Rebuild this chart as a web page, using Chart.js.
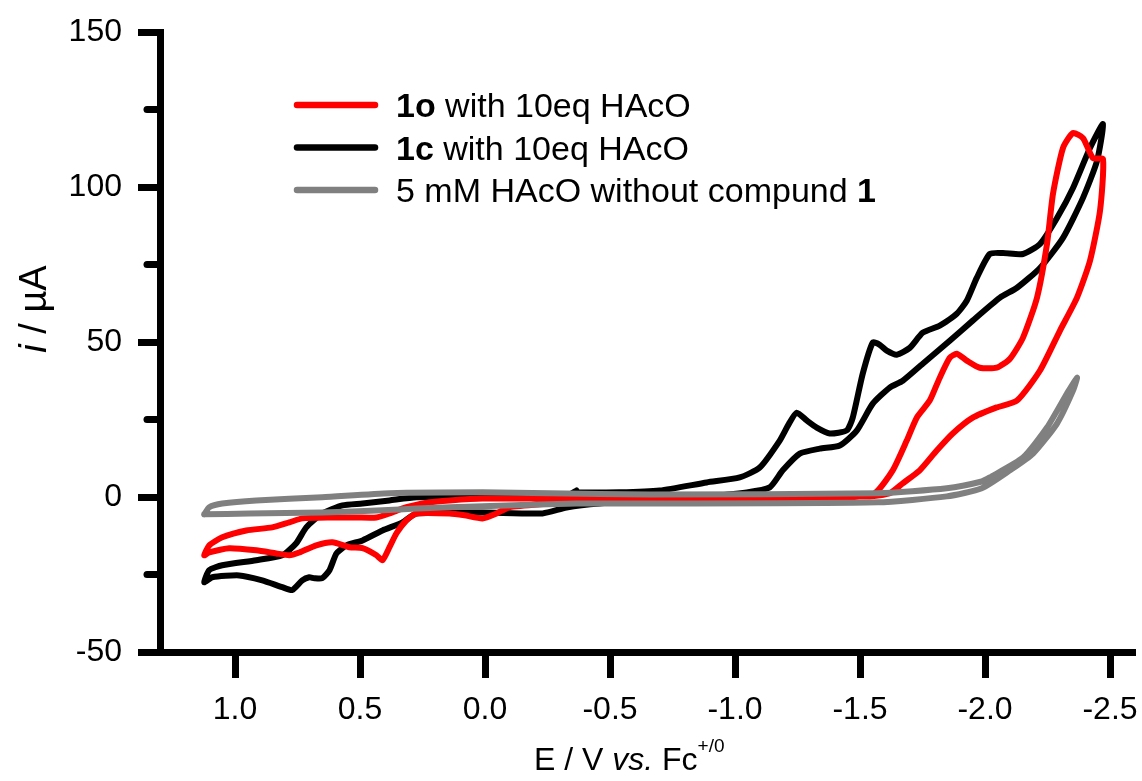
<!DOCTYPE html>
<html lang="en">
<head>
<meta charset="UTF-8">
<title>CV with HAcO</title>
<script src="https://cdn.jsdelivr.net/npm/chart.js"></script>
<style>
  body { margin: 0; background: #fff; }
  .wrap { width: 1142px; height: 781px; position: relative; }
</style>
</head>
<body>
<div class="wrap"><canvas id="cv"></canvas></div>
<script>
// tick values
const xTicks = [1.0, 0.5, 0.0, -0.5, -1.0, -1.5, -2.0, -2.5];
const yTicks = [-50, 0, 50, 100, 150];
const yMinorTicks = [-25, 25, 75, 125];

// 1o with 10eq HAcO (red)
const redE = [-0.366,-0.659,-1.059,-1.459,-1.559,-1.631,-1.687,-1.727,-1.779,-1.819,-1.859,-1.887,-1.927,-1.979,-2.047,-2.100,-2.152,-2.208,-2.248,-2.272,-2.312,-2.352,-2.392,-2.432,-2.472,
  -2.460,-2.420,-2.368,-2.300,-2.220,-2.128,-2.047,-1.951,-1.871,-1.807,-1.739,-1.671,-1.619,-1.539,-1.059,-0.498,-0.390,-0.258,-0.098,-0.046,0.010,0.082,0.142,0.274,0.314,0.354,0.382,0.410,0.434,0.490,0.542,0.610,0.675,0.743,0.783,0.835,0.915,1.023,1.103,1.123,
  1.103,1.051,0.955,0.851,0.783,0.731,0.622,0.514,0.434,0.382,0.314,0.222,0.142,0.010,-0.366];
const redI = [-0.5,-0.8,-0.8,-0.1,1.2,8.6,18.2,25.6,31.1,38.5,44.9,46.2,44.0,41.7,41.7,44.6,51.4,64.3,81.6,97.8,112.6,117.4,115.8,109.3,109.0,
  92.3,76.2,64.3,53.7,40.8,31.1,28.9,25.6,20.5,15.0,8.6,4.4,1.2,0.2,0.2,0,-1.1,-2.1,-3.3,-5.3,-6.9,-5.9,-5.3,-5.3,-7.5,-11.7,-16.2,-20.4,-18.8,-16.5,-16.2,-14.6,-15.6,-17.9,-18.8,-18.2,-17.2,-16.5,-17.9,-18.8,
  -15.6,-13.0,-10.8,-9.8,-8.2,-6.9,-6.6,-6.6,-6.6,-5.3,-3.3,-1.7,-1.1,-0.5,-0.5];

// 1c with 10eq HAcO (black)
const blackE = [-0.366,-0.538,-0.699,-0.887,-1.019,-1.099,-1.179,-1.215,-1.247,-1.287,-1.327,-1.379,-1.447,-1.471,-1.511,-1.551,-1.579,-1.607,-1.647,-1.699,-1.751,-1.819,-1.887,-1.927,-1.967,-2.019,-2.072,-2.152,-2.220,-2.288,-2.352,-2.420,-2.472,
  -2.448,-2.392,-2.312,-2.220,-2.128,-2.060,-1.951,-1.859,-1.751,-1.671,-1.619,-1.551,-1.487,-1.419,-1.339,-1.259,-1.191,-1.139,-1.047,-0.859,-0.659,-0.458,-0.326,-0.230,0.010,0.274,0.330,0.410,0.490,0.554,0.594,0.622,0.651,0.683,0.703,0.731,0.771,0.811,0.891,0.983,1.091,1.123,
  1.103,1.051,0.915,0.811,0.755,0.715,0.651,0.570,0.490,0.382,0.274,0.010,-0.178,-0.338,-0.366];
const blackI = [1.5,1.5,2.1,4.7,6.3,9.5,18.2,23.5,27.2,24.7,22.4,20.5,21.5,25.6,39.8,49.8,49.1,47.2,45.9,48.1,53.0,55.3,59.1,63.3,70.7,78.4,78.7,78.4,81.6,90.0,99.7,112.6,120.3,
  108.4,96.5,83.6,73.9,67.5,64.3,56.9,50.4,43.0,37.5,35.3,30.1,21.4,16.6,15.6,14.0,8.6,3.1,1.5,0,-1.1,-2.1,-3.4,-5.3,-5.0,-5.3,-8.2,-10.8,-14.0,-15.6,-18.2,-23.6,-26.2,-26.2,-25.9,-26.9,-30.0,-29.1,-26.9,-25.3,-25.9,-27.5,
  -23.6,-22.0,-20.4,-18.8,-14.9,-9.8,-5.3,-2.7,-2.1,-1.1,-0.1,-0.1,0.2,0.8,2.1];

// 5 mM HAcO without compound 1 (grey)
const grayE = [1.123,1.103,1.051,0.915,0.651,0.382,0.010,-0.258,-0.659,-1.571,-1.847,-1.987,-2.019,-2.152,-2.248,-2.328,-2.368,
  -2.352,-2.288,-2.192,-2.100,-1.987,-1.847,-1.571,-0.659,-0.366,0.010,0.274,0.410,0.651,0.943,1.123];
const grayI = [-5.6,-3.3,-2.1,-1.1,-0.1,1.2,1.5,1.2,0.8,1.2,2.8,5.0,6.3,12.7,22.4,33.4,38.5,
  34.3,23.7,14.0,8.6,2.8,0.2,-1.7,-2.1,-2.1,-3.0,-3.7,-4.3,-5.0,-5.3,-5.6];

const FONT = '"Liberation Sans", Arial, sans-serif';

function pts(es, is) {
  return es.map((e, k) => ({ x: e, y: is[k] }));
}

function series(label, es, is, color) {
  return {
    label: label, data: pts(es, is), showLine: true,
    borderColor: color, backgroundColor: color, borderWidth: 6,
    pointRadius: 0, tension: 0.2,
    borderCapStyle: 'round', borderJoinStyle: 'round'
  };
}

// legend rows: [colour, text runs]
const legendRows = [
  ['#ff0000', [{ t: '1o', b: true }, { t: ' with 10eq HAcO' }]],
  ['#000000', [{ t: '1c', b: true }, { t: ' with 10eq HAcO' }]],
  ['#808080', [{ t: '5 mM HAcO without compund ' }, { t: '1', b: true }]]
];

function runs(ctx, list, x, y, size) {
  list.forEach(r => {
    ctx.font = (r.i ? 'italic ' : '') + (r.b ? 'bold ' : '') + (r.size || size) + 'px ' + FONT;
    ctx.fillText(r.t, x, y + (r.dy || 0));
    x += ctx.measureText(r.t).width;
  });
  return x;
}

function runsWidth(ctx, list, size) {
  let w = 0;
  list.forEach(r => {
    ctx.font = (r.i ? 'italic ' : '') + (r.b ? 'bold ' : '') + (r.size || size) + 'px ' + FONT;
    w += ctx.measureText(r.t).width;
  });
  return w;
}

const overlay = {
  id: 'overlay',
  afterDraw(chart) {
    const ctx = chart.ctx, area = chart.chartArea, ys = chart.scales.y;
    ctx.save();
    ctx.strokeStyle = '#000';
    ctx.lineWidth = 7;
    ctx.lineCap = 'round';
    yMinorTicks.forEach(v => {
      const py = ys.getPixelForValue(v);
      ctx.beginPath();
      ctx.moveTo(area.left - 13, py);
      ctx.lineTo(area.left, py);
      ctx.stroke();
    });

    // legend
    ctx.textBaseline = 'alphabetic';
    ctx.fillStyle = '#000';
    legendRows.forEach((row, k) => {
      const ry = 105 + k * 42.5;
      ctx.strokeStyle = row[0];
      ctx.lineWidth = 6.5;
      ctx.beginPath();
      ctx.moveTo(297, ry);
      ctx.lineTo(375, ry);
      ctx.stroke();
      runs(ctx, row[1], 396, ry + 12, 34);
    });

    // x title
    const xt = [{ t: 'E / V ' }, { t: 'vs.', i: true }, { t: ' Fc' }, { t: '+/0', size: 19, dy: -18 }];
    runs(ctx, xt, 534, 770, 32);

    // y title
    const yt = [{ t: 'i', i: true }, { t: ' / \u00b5A' }];
    ctx.translate(46, 309);
    ctx.rotate(-Math.PI / 2);
    const w = runsWidth(ctx, yt, 38);
    runs(ctx, yt, -w / 2, 0, 38);
    ctx.restore();
  }
};

function fmt(v) {
  const s = Math.abs(v) < 1e-9 ? 0 : v;
  return s.toFixed(1);
}

new Chart(document.getElementById('cv'), {
  type: 'scatter',
  data: {
    datasets: [
      series('5 mM HAcO without compund 1', grayE, grayI, '#808080'),
      series('1o with 10eq HAcO', redE, redI, '#ff0000'),
      series('1c with 10eq HAcO', blackE, blackI, '#000000')
    ]
  },
  options: {
    responsive: true,
    maintainAspectRatio: false,
    devicePixelRatio: 1,
    animation: false,
    layout: { padding: { top: 32, right: 7, left: 0, bottom: 0 } },
    plugins: { legend: { display: false }, tooltip: { enabled: false } },
    scales: {
      x: {
        type: 'linear', reverse: true, min: -2.6, max: 1.3,
        afterBuildTicks: s => { s.ticks = xTicks.map(v => ({ value: v })); },
        afterFit: s => { s.height = 129; s.paddingLeft = 0; s.paddingRight = 0; },
        border: { display: true, color: '#000', width: 7 },
        grid: { display: true, drawOnChartArea: false, drawTicks: true, tickLength: 26, tickWidth: 7, tickColor: '#000' },
        ticks: { color: '#000', font: { family: FONT, size: 32 }, padding: 13, maxRotation: 0, callback: v => fmt(v) }
      },
      y: {
        type: 'linear', min: -50, max: 150,
        afterBuildTicks: s => { s.ticks = yTicks.map(v => ({ value: v })); },
        afterFit: s => { s.width = 160; s.paddingTop = 0; s.paddingBottom = 0; },
        border: { display: true, color: '#000', width: 7 },
        grid: { display: true, drawOnChartArea: false, drawTicks: true, tickLength: 22, tickWidth: 7, tickColor: '#000' },
        ticks: { color: '#000', font: { family: FONT, size: 32 }, padding: 16, callback: v => String(v) }
      }
    }
  },
  plugins: [overlay]
});
</script>
</body>
</html>
